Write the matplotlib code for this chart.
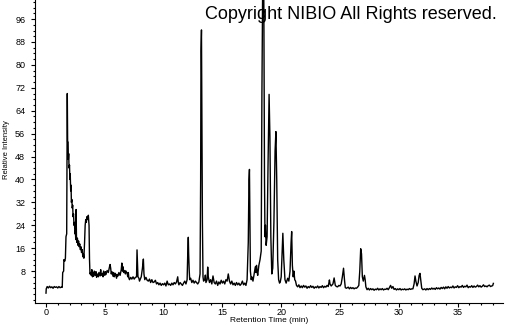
import matplotlib
matplotlib.use("Agg")
import matplotlib.pyplot as plt
from matplotlib.ticker import MultipleLocator

# (retention time in min, relative intensity)
front_0_4 = [
    (0.0, 0.3), (0.02, 1.8), (0.1, 2.6), (0.2, 2.1), (0.3, 2.7), (0.4, 2.2),
    (0.5, 2.5), (0.6, 2.0), (0.7, 2.6), (0.8, 2.3), (0.9, 2.5), (1.0, 2.1),
    (1.1, 2.6), (1.2, 2.2), (1.3, 2.4), (1.38, 2.3), (1.42, 7.5), (1.5, 8.0),
    (1.52, 12.0), (1.6, 11.5), (1.65, 12.5), (1.7, 20.0), (1.76, 21.0),
    (1.79, 55.0), (1.81, 70.0), (1.84, 53.0), (1.88, 53.0), (1.9, 47.0),
    (1.93, 49.0), (1.96, 44.0), (2.0, 45.0), (2.03, 40.0), (2.06, 42.0),
    (2.1, 36.0), (2.13, 38.0), (2.16, 32.0), (2.2, 33.0), (2.23, 30.0),
    (2.27, 31.0), (2.3, 27.0), (2.34, 28.0), (2.38, 24.0), (2.42, 25.0),
    (2.46, 21.0), (2.5, 22.0), (2.53, 19.0), (2.56, 29.5), (2.59, 20.0),
    (2.63, 18.0), (2.67, 19.5), (2.72, 17.0), (2.77, 18.5), (2.82, 16.5),
    (2.87, 17.5), (2.92, 15.5), (2.97, 16.5), (3.02, 14.5), (3.08, 15.5),
    (3.13, 13.0), (3.18, 14.0), (3.22, 12.5), (3.28, 18.0), (3.33, 24.0),
    (3.38, 26.0), (3.43, 25.0), (3.48, 27.0), (3.55, 26.0), (3.6, 27.5),
    (3.66, 24.0), (3.7, 12.0), (3.74, 7.0), (3.8, 7.5), (3.85, 6.5),
    (3.9, 8.5), (3.95, 6.0),
]
early_4_13 = [
    (4.0, 7.5), (4.05, 6.2), (4.1, 8.0), (4.2, 6.5), (4.25, 7.8), (4.3, 5.8),
    (4.4, 7.0), (4.45, 6.0), (4.5, 7.5), (4.6, 6.3), (4.65, 8.5), (4.7, 6.5),
    (4.8, 7.2), (4.85, 6.0), (4.9, 8.0), (5.0, 6.5), (5.05, 7.8), (5.1, 6.8),
    (5.2, 8.2), (5.3, 7.5), (5.4, 9.5), (5.45, 10.3), (5.5, 9.0), (5.55, 7.0),
    (5.6, 7.8), (5.7, 6.2), (5.75, 7.5), (5.8, 6.0), (5.9, 7.2), (6.0, 5.5),
    (6.05, 6.8), (6.1, 6.2), (6.2, 7.5), (6.3, 6.5), (6.4, 8.5), (6.45, 10.8),
    (6.5, 8.0), (6.55, 9.5), (6.6, 7.5), (6.7, 8.2), (6.75, 7.0), (6.8, 8.0),
    (6.9, 7.2), (6.95, 6.0), (7.0, 7.5), (7.05, 5.5), (7.1, 5.0), (7.2, 5.8),
    (7.3, 5.2), (7.4, 6.0), (7.5, 5.2), (7.6, 5.8), (7.7, 6.0), (7.74, 15.4),
    (7.78, 11.0), (7.82, 6.0), (7.9, 5.5), (7.95, 4.5), (8.0, 5.0), (8.1, 6.0),
    (8.2, 9.0), (8.28, 12.2), (8.33, 7.0), (8.4, 5.0), (8.5, 5.8),
    (8.6, 4.8), (8.7, 4.5), (8.8, 5.2), (8.9, 4.0), (9.0, 5.0), (9.1, 4.0),
    (9.2, 4.2), (9.3, 4.8), (9.4, 3.5), (9.5, 4.0), (9.6, 3.2), (9.7, 3.8),
    (9.8, 3.0), (9.9, 3.6), (10.0, 3.2), (10.1, 3.8), (10.2, 2.8), (10.3, 4.5),
    (10.4, 3.2), (10.5, 3.5), (10.6, 3.0), (10.7, 3.8), (10.8, 3.2), (10.9, 4.0),
    (11.0, 3.5), (11.1, 4.2), (11.2, 6.0), (11.25, 4.0), (11.3, 3.2), (11.4, 4.0),
    (11.5, 3.5), (11.6, 3.0), (11.7, 3.8), (11.8, 4.5), (11.9, 3.5), (12.0, 5.0),
    (12.05, 13.5), (12.1, 19.8), (12.13, 14.0), (12.18, 8.0), (12.22, 5.0),
    (12.3, 5.5), (12.4, 4.0), (12.5, 4.8), (12.6, 3.8), (12.7, 4.5), (12.8, 4.0),
    (12.9, 3.5), (13.0, 4.2),
]
main_13_22 = [
    (13.1, 7.0), (13.15, 40.0), (13.18, 85.0), (13.22, 92.2), (13.26, 62.0),
    (13.3, 25.0), (13.35, 6.0), (13.4, 4.5), (13.5, 5.0), (13.55, 6.6),
    (13.6, 4.0), (13.7, 5.0), (13.75, 9.4), (13.8, 6.0), (13.9, 4.0),
    (14.0, 5.0), (14.1, 3.5), (14.2, 6.3), (14.3, 4.0), (14.4, 3.5), (14.5, 4.5),
    (14.6, 3.0), (14.7, 4.2), (14.8, 3.5), (14.9, 4.8), (15.0, 3.8), (15.1, 4.5),
    (15.2, 3.5), (15.3, 5.0), (15.4, 4.5), (15.5, 7.0), (15.6, 4.5), (15.7, 3.5),
    (15.8, 4.5), (15.9, 3.2), (16.0, 3.8), (16.1, 3.0), (16.2, 4.0), (16.3, 3.2),
    (16.4, 3.8), (16.5, 3.0), (16.6, 3.5), (16.7, 4.5), (16.8, 3.2), (16.9, 3.8),
    (17.0, 3.0), (17.1, 5.0), (17.2, 18.0), (17.26, 40.0), (17.3, 43.5),
    (17.34, 25.0), (17.38, 8.0), (17.45, 5.0), (17.5, 6.0), (17.6, 4.5),
    (17.7, 7.0), (17.8, 9.5), (17.85, 7.5), (17.9, 10.0), (17.95, 8.0),
    (18.0, 6.5), (18.1, 10.0), (18.2, 12.0), (18.3, 15.0), (18.36, 70.0),
    (18.42, 105.0), (18.52, 105.0), (18.58, 40.0), (18.62, 20.0), (18.66, 24.0),
    (18.72, 17.0), (18.8, 20.0), (18.88, 45.0), (18.97, 69.7), (19.04, 55.0),
    (19.12, 20.0), (19.2, 7.0), (19.28, 9.0), (19.38, 25.0), (19.48, 50.0),
    (19.55, 56.7), (19.62, 40.0), (19.7, 12.0), (19.78, 5.0), (19.86, 3.8),
    (19.92, 4.2), (20.0, 6.0),
    (20.07, 14.0), (20.14, 21.2), (20.22, 12.0), (20.32, 5.0), (20.42, 3.8),
    (20.55, 5.5), (20.65, 4.5), (20.75, 8.0), (20.84, 18.0), (20.89, 21.8),
    (20.95, 10.0), (21.02, 6.0), (21.08, 8.0), (21.15, 5.0), (21.22, 4.5),
    (21.3, 3.0), (21.4, 2.5), (21.5, 3.2), (21.6, 2.2), (21.7, 2.8), (21.8, 2.2),
    (21.9, 3.0),
]
late_22_38 = [
    (22.0, 2.4), (22.1, 2.8), (22.2, 2.0), (22.3, 2.6), (22.4, 2.2), (22.5, 2.9),
    (22.6, 2.3), (22.7, 2.7), (22.8, 2.0), (22.9, 2.5), (23.0, 2.2), (23.1, 2.8),
    (23.2, 2.1), (23.3, 2.6), (23.4, 2.3), (23.5, 2.9), (23.6, 2.2), (23.7, 2.7),
    (23.8, 2.4), (23.9, 3.0), (24.0, 2.6), (24.1, 4.9), (24.15, 3.5),
    (24.25, 2.8), (24.4, 3.5), (24.5, 5.6), (24.6, 3.0), (24.7, 2.6),
    (24.8, 2.5), (24.9, 3.0), (25.0, 2.8), (25.1, 3.5), (25.2, 6.0), (25.3, 9.0),
    (25.38, 5.0), (25.45, 2.2), (25.55, 2.0), (25.7, 2.4), (25.8, 1.8),
    (25.9, 2.3), (26.0, 1.9), (26.1, 2.2), (26.2, 1.8), (26.3, 2.1), (26.4, 2.0),
    (26.5, 2.4), (26.6, 3.0), (26.68, 8.0), (26.76, 15.8), (26.83, 14.0),
    (26.9, 6.0), (26.98, 4.5), (27.08, 6.5), (27.14, 5.0), (27.2, 2.5),
    (27.3, 1.5), (27.4, 2.0), (27.5, 1.4), (27.6, 1.9), (27.7, 1.5), (27.8, 1.8),
    (27.9, 1.3), (28.0, 1.7), (28.1, 1.5), (28.2, 2.0), (28.3, 1.4), (28.4, 1.8),
    (28.5, 1.5), (28.6, 1.9), (28.7, 1.4), (28.8, 1.7), (28.9, 1.6), (29.0, 2.0),
    (29.1, 1.5), (29.2, 2.2), (29.3, 3.0), (29.4, 2.0), (29.5, 2.6), (29.6, 1.6),
    (29.7, 1.9), (29.8, 1.4), (29.9, 1.8), (30.0, 1.5), (30.1, 1.9), (30.2, 1.4),
    (30.3, 1.7), (30.4, 1.5), (30.5, 1.8), (30.6, 1.4), (30.7, 1.7), (30.8, 1.5),
    (30.9, 1.9), (31.0, 1.6), (31.1, 1.8), (31.2, 1.8), (31.3, 3.5),
    (31.38, 6.3), (31.45, 4.5), (31.55, 2.8), (31.65, 4.0), (31.73, 6.5),
    (31.8, 7.2), (31.88, 4.5), (31.95, 2.0), (32.05, 1.5), (32.2, 1.8),
    (32.3, 1.4), (32.4, 1.9), (32.5, 1.5), (32.6, 1.9), (32.7, 1.6), (32.8, 2.1),
    (32.9, 1.7), (33.0, 2.0), (33.1, 1.6), (33.2, 2.2), (33.3, 1.8), (33.4, 2.1),
    (33.5, 1.7), (33.6, 2.3), (33.7, 1.9), (33.8, 2.4), (33.9, 1.8), (34.0, 2.5),
    (34.1, 2.0), (34.2, 2.6), (34.3, 2.1), (34.4, 2.4), (34.5, 2.2), (34.6, 2.8),
    (34.7, 2.1), (34.8, 2.5), (34.9, 2.3), (35.0, 2.9), (35.1, 2.2), (35.2, 2.6),
    (35.3, 2.4), (35.4, 3.0), (35.5, 2.3), (35.6, 2.7), (35.7, 2.5), (35.8, 3.1),
    (35.9, 2.2), (36.0, 2.6), (36.1, 2.4), (36.2, 2.9), (36.3, 2.3), (36.4, 2.8),
    (36.5, 2.4), (36.6, 2.6), (36.7, 3.1), (36.8, 2.5), (36.9, 2.9), (37.0, 2.4),
    (37.1, 2.7), (37.2, 3.2), (37.3, 2.6), (37.4, 2.8), (37.5, 2.5), (37.6, 2.9),
    (37.7, 3.1), (37.8, 2.6), (37.9, 2.8), (37.98, 2.9), (38.04, 3.7),
]

ytick_vals = list(range(8, 97, 8))
xtick_vals = [0, 5, 10, 15, 20, 25, 30, 35]

trace = front_0_4 + early_4_13 + main_13_22 + late_22_38
times = [p[0] for p in trace]
intensity = [p[1] for p in trace]

plt.rcParams['font.family'] = ['Liberation Sans', 'DejaVu Sans']

fig = plt.figure(figsize=(5.05, 3.25), dpi=100)
ax = fig.add_axes([35 / 505, 22.3 / 325, 468 / 505, 302.7 / 325])

ax.plot(times, intensity, color='black', lw=1.0)

ax.set_xlim(-0.935, 38.86)
ax.set_ylim(-3.04, 102.65)
ax.set_xticks(xtick_vals)
ax.set_yticks(ytick_vals)
ax.xaxis.set_minor_locator(MultipleLocator(1))
ax.yaxis.set_minor_locator(MultipleLocator(2))
ax.tick_params(which='major', length=3, width=0.8, labelsize=6.5)
ax.tick_params(which='minor', length=1.5, width=0.8)
ax.tick_params(axis='x', which='major', pad=1)
ax.tick_params(axis='y', which='major', pad=4)

for side in ['top', 'right']:
    ax.spines[side].set_visible(False)
for side in ['left', 'bottom']:
    ax.spines[side].set_linewidth(0.8)

fig.text(268.7 / 505, 1 - 321 / 325, 'Retention Time (min)', fontsize=6,
         ha='center', va='center')
fig.text(7 / 505, 1 - 150 / 325, 'Relative Intensity', fontsize=5.5,
         rotation=90, ha='center', va='center')
fig.text(497 / 505, 1 - 14.5 / 325, 'Copyright NIBIO All Rights reserved.',
         fontsize=13, ha='right', va='center')

fig.savefig('out.png', dpi=100)
